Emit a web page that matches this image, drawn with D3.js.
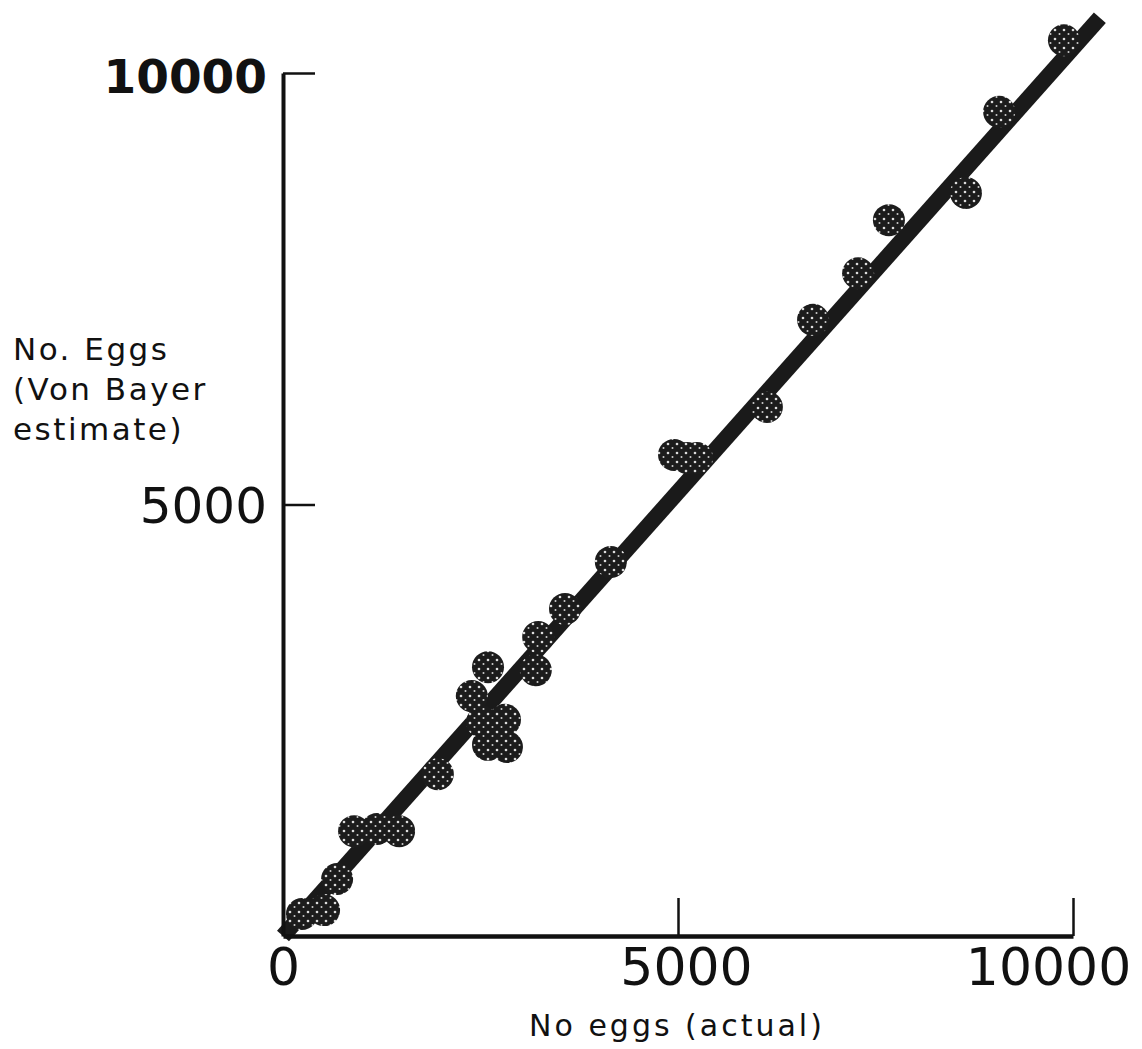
<!DOCTYPE html>
<html>
<head>
<meta charset="utf-8">
<script src="https://cdn.jsdelivr.net/npm/d3@7"></script>
<style>
  body { margin: 0; background: #fff; }
  svg { display: block; }
  text { font-family: "DejaVu Sans", sans-serif; fill: #111; }
</style>
</head>
<body>
<svg width="1142" height="1049"></svg>
<script>
// Eggs counted vs Von Bayer estimate
const actual = [240, 520, 685, 900, 1190, 1470, 1960, 2595, 2390, 2520, 2810, 2595, 2835, 3230, 3200, 3570, 4150, 4950, 5115, 5240, 6125, 6710, 7280, 7670, 8645, 9065, 9885];
const estimate = [255, 300, 660, 1215, 1240, 1215, 1875, 3115, 2780, 2480, 2505, 2215, 2190, 3465, 3080, 3790, 4335, 5575, 5540, 5540, 6130, 7140, 7680, 8295, 8610, 9550, 10380];

// fitted line end points
const fitX = [0, 10340];
const fitY = [0, 10640];

const xTicks = [0, 5000, 10000];
const yTicks = [5000, 10000];

const svg = d3.select('svg');

const x = d3.scaleLinear().domain([0, 10000]).range([283, 1073]);
const y = d3.scaleLinear().domain([0, 10000]).range([936, 73]);

// speckled fill for the dots
const pat = svg
  .append('defs')
  .append('pattern')
  .attr('id', 'speckle')
  .attr('patternUnits', 'userSpaceOnUse')
  .attr('width', 9)
  .attr('height', 9);
pat.append('rect').attr('width', 9).attr('height', 9).attr('fill', '#1c1c1c');
pat.append('circle').attr('cx', 2).attr('cy', 3).attr('r', 1.3).attr('fill', '#ddd');
pat.append('circle').attr('cx', 6.5).attr('cy', 7).attr('r', 1).attr('fill', '#ccc');

// fitted line
svg
  .append('line')
  .attr('x1', x(fitX[0]))
  .attr('y1', y(fitY[0]))
  .attr('x2', x(fitX[1]))
  .attr('y2', y(fitY[1]))
  .attr('stroke', '#1a1a1a')
  .attr('stroke-width', 16);

// Y-Axis
const gy = svg
  .append('g')
  .attr('transform', `translate(${x(0)},0)`)
  .call(
    d3
      .axisLeft(y)
      .tickValues(yTicks)
      .tickSize(-32)
      .tickSizeOuter(0)
      .tickPadding(16)
      .tickFormat(d3.format('d'))
  );
gy.select('.domain').attr('stroke', '#111').attr('stroke-width', 4);
gy.selectAll('.tick line').attr('stroke', '#111').attr('stroke-width', 2.5);
gy.selectAll('.tick text')
  .style('font-size', d => (d === 10000 ? '47px' : '50px'))
  .style('font-weight', d => (d === 10000 ? 'bold' : 'normal'))
  .attr('dy', d => (d === 10000 ? '0.42em' : '0.36em'));

// X-Axis
const gx = svg
  .append('g')
  .attr('transform', `translate(0,${y(0)})`)
  .call(
    d3
      .axisBottom(x)
      .tickValues(xTicks)
      .tickSize(-38)
      .tickSizeOuter(0)
      .tickPadding(12)
      .tickFormat(d3.format('d'))
  );
gx.select('.domain').attr('stroke', '#111').attr('stroke-width', 4.5);
gx.selectAll('.tick line').attr('stroke', '#111').attr('stroke-width', 2.5);
gx.selectAll('.tick text')
  .style('font-size', '52px')
  .attr('dx', d => (d === 10000 ? -25 : d === 5000 ? 8 : 0));

// Dots
svg
  .append('g')
  .selectAll('circle')
  .data(actual.map((a, i) => ({ a, e: estimate[i] })))
  .enter()
  .append('circle')
  .attr('cx', d => x(d.a))
  .attr('cy', d => y(d.e))
  .attr('r', 16)
  .attr('fill', 'url(#speckle)');

// Axis titles
const yTitle = svg
  .append('text')
  .attr('x', 13)
  .attr('y', 360)
  .style('font-size', '31px')
  .style('letter-spacing', '2.5px');
['No. Eggs', '(Von Bayer', 'estimate)'].forEach((t, i) =>
  yTitle
    .append('tspan')
    .attr('x', 13)
    .attr('dy', i === 0 ? 0 : 40)
    .text(t)
);

svg
  .append('text')
  .attr('x', 677)
  .attr('y', 1036)
  .attr('text-anchor', 'middle')
  .style('font-size', '30px')
  .style('letter-spacing', '3px')
  .text('No eggs (actual)');
</script>
</body>
</html>
